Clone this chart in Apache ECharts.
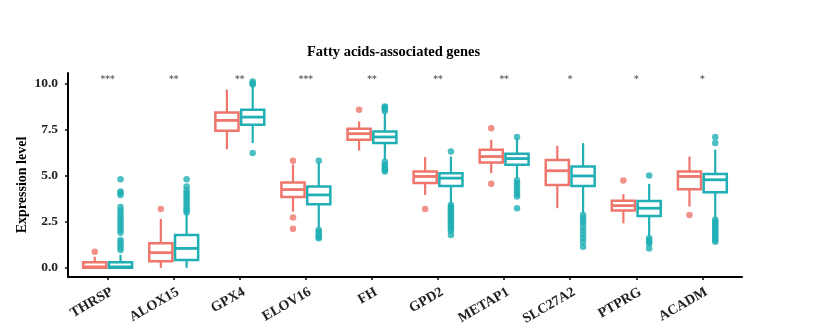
<!DOCTYPE html>
<html>
<head>
<meta charset="utf-8">
<script src="https://cdn.jsdelivr.net/npm/echarts@6/dist/echarts.min.js"></script>
<style>html,body{margin:0;padding:0;background:#fff}#c{width:830px;height:331px}</style>
</head>
<body>
<div id="c"></div>
<script>
const genes = ['THRSP','ALOX15','GPX4','ELOV16','FH','GPD2','METAP1','SLC27A2','PTPRG','ACADM'];
const stars = ['***','**','**','***','**','**','**','*','*','*'];
const yTicks = [0, 2.5, 5, 7.5, 10];
// [min, Q1, median, Q3, max]
const normalBox = [
  [0, 0, 0.05, 0.3, 0.6],
  [0, 0.36, 0.82, 1.33, 2.65],
  [6.43, 7.43, 7.99, 8.42, 9.66],
  [3.04, 3.84, 4.24, 4.63, 5.6],
  [6.36, 6.94, 7.27, 7.54, 7.93],
  [3.95, 4.59, 4.95, 5.22, 6.0],
  [5.13, 5.71, 6.03, 6.40, 6.94],
  [3.23, 4.49, 5.26, 5.85, 6.61],
  [2.41, 3.10, 3.37, 3.64, 3.99],
  [3.32, 4.26, 4.95, 5.22, 6.03]
];
const tumorBox = [
  [0, 0, 0.05, 0.3, 0.7],
  [0, 0.42, 1.05, 1.78, 2.9],
  [6.76, 7.76, 8.17, 8.57, 9.84],
  [2.2, 3.44, 3.95, 4.40, 5.7],
  [5.85, 6.76, 7.09, 7.39, 8.4],
  [3.5, 4.44, 4.86, 5.13, 6.03],
  [4.86, 5.58, 5.92, 6.18, 7.0],
  [2.95, 4.44, 4.98, 5.49, 6.76],
  [1.69, 2.81, 3.23, 3.62, 4.55],
  [2.68, 4.10, 4.77, 5.08, 6.4]
];
const normalOut = [
  [0.87],
  [3.19],
  [],
  [5.8, 2.72, 2.12],
  [8.57],
  [3.19],
  [7.57, 4.55],
  [],
  [4.73],
  [2.86]
];
const tumorOut = [
  [0.96, 1.1, 1.25, 1.4, 1.5, 1.9, 2.05, 2.2, 2.35, 2.5, 2.65, 2.8, 2.95, 3.1, 3.3, 3.95, 4.05, 4.13, 4.8],
  [3.0, 3.1, 3.2, 3.35, 3.5, 3.65, 3.8, 3.9, 4.05, 4.2, 4.4, 4.8],
  [9.93, 10.0, 10.1, 6.22],
  [5.8, 2.05, 1.95, 1.85, 1.75, 1.65, 1.6],
  [8.5, 8.6, 8.7, 8.75, 5.75, 5.6, 5.5, 5.4, 5.3, 5.22],
  [6.30, 3.4, 3.3, 3.2, 3.1, 3.0, 2.9, 2.8, 2.7, 2.6, 2.5, 2.4, 2.3, 2.2, 2.1, 2.0, 1.78],
  [7.09, 4.75, 4.6, 4.45, 4.3, 4.15, 4.0, 3.86, 3.23],
  [2.86, 2.7, 2.55, 2.4, 2.2, 2.0, 1.8, 1.6, 1.4, 1.14],
  [5.0, 1.6, 1.5, 1.4, 1.3, 1.05],
  [7.09, 6.76, 2.6, 2.5, 2.4, 2.3, 2.2, 2.1, 2.0, 1.9, 1.8, 1.7, 1.6, 1.5, 1.41]
];

const RED = '#EE766C';
const TEAL = '#1FAFB4';
const DODGE = 0.195;
const BOXW = 0.35;
const LABEL_SHIFT = 0.01;
const FONT = 'Liberation Serif';

function boxData(list, shift) {
  return list.map((b, i) => [i + 1 + shift].concat(b));
}
function outData(list, shift) {
  const out = [];
  list.forEach((vals, i) => vals.forEach(v => out.push([i + 1 + shift, v])));
  return out;
}
function makeRender(color) {
  return function (params, api) {
    const x = api.value(0);
    const pMin = api.coord([x, api.value(1)]);
    const pQ1 = api.coord([x, api.value(2)]);
    const pMed = api.coord([x, api.value(3)]);
    const pQ3 = api.coord([x, api.value(4)]);
    const pMax = api.coord([x, api.value(5)]);
    const w = api.size([BOXW, 0])[0];
    const st = { stroke: color, lineWidth: 2.2 };
    return {
      type: 'group',
      children: [
        { type: 'line', shape: { x1: pMin[0], y1: pMin[1], x2: pQ1[0], y2: pQ1[1] }, style: st },
        { type: 'line', shape: { x1: pQ3[0], y1: pQ3[1], x2: pMax[0], y2: pMax[1] }, style: st },
        { type: 'rect', shape: { x: pQ3[0] - w / 2, y: pQ3[1], width: w, height: pQ1[1] - pQ3[1] }, style: { fill: '#fff', stroke: color, lineWidth: 2.5 } },
        { type: 'line', shape: { x1: pMed[0] - w / 2, y1: pMed[1], x2: pMed[0] + w / 2, y2: pMed[1] }, style: { stroke: color, lineWidth: 2.8 } }
      ]
    };
  };
}

const chart = echarts.init(document.getElementById('c'), null, { renderer: 'canvas' });
chart.setOption({
  animation: false,
  backgroundColor: '#fff',
  title: {
    text: 'Fatty acids-associated genes',
    left: 307, top: 45, padding: 0,
    textStyle: { fontFamily: FONT, fontWeight: 'bold', fontSize: 14.5, color: '#000' }
  },
  grid: { left: 68, right: 88, top: 73, bottom: 54, containLabel: false, outerBoundsMode: 'none' },
  xAxis: {
    type: 'value', min: 0.4, max: 10.6,
    splitLine: { show: false },
    axisLine: { show: true, onZero: false, lineStyle: { color: '#000', width: 2 } },
    axisTick: { show: true, customValues: genes.map((g, i) => i + 1), length: 3, lineStyle: { color: '#000', width: 1.5 } },
    axisLabel: {
      customValues: genes.map((g, i) => i + 1 + LABEL_SHIFT),
      formatter: v => genes[Math.round(v) - 1] || '',
      rotate: 30, margin: 8, align: 'right', verticalAlign: 'top',
      fontFamily: FONT, fontWeight: 'bold', fontSize: 14, color: '#222'
    }
  },
  yAxis: {
    type: 'value', min: -0.5, max: 10.56,
    name: 'Expression level', nameLocation: 'middle', nameRotate: 90, nameGap: 39,
    nameMoveOverlap: false,
    nameTextStyle: { fontFamily: FONT, fontWeight: 'bold', fontSize: 14, color: '#000', padding: [0, 20, 0, 0] },
    splitLine: { show: false },
    axisLine: { show: true, onZero: false, lineStyle: { color: '#000', width: 2 } },
    axisTick: { show: true, customValues: yTicks, length: 3, lineStyle: { color: '#000', width: 1.5 } },
    axisLabel: {
      customValues: yTicks,
      formatter: v => v.toFixed(1),
      margin: 10,
      fontFamily: FONT, fontWeight: 'bold', fontSize: 13.5, color: '#222'
    }
  },
  series: [
    { type: 'custom', name: 'Normal', renderItem: makeRender(RED), encode: { x: 0, y: [1, 2, 3, 4, 5] }, data: boxData(normalBox, -DODGE), z: 2 },
    { type: 'custom', name: 'Tumor', renderItem: makeRender(TEAL), encode: { x: 0, y: [1, 2, 3, 4, 5] }, data: boxData(tumorBox, DODGE), z: 2 },
    { type: 'scatter', symbol: 'circle', symbolSize: 6.5, itemStyle: { color: RED }, data: outData(normalOut, -DODGE), z: 3 },
    { type: 'scatter', symbol: 'circle', symbolSize: 6.5, itemStyle: { color: TEAL }, data: outData(tumorOut, DODGE), z: 3 },
    {
      type: 'scatter', symbolSize: 0, silent: true,
      data: stars.map((s, i) => [i + 1, 10.2]),
      label: {
        show: true, position: 'inside',
        formatter: p => stars[p.dataIndex],
        fontFamily: 'DejaVu Sans', fontWeight: 'bold', fontSize: 9, color: '#444'
      }
    }
  ]
});
</script>
</body>
</html>
